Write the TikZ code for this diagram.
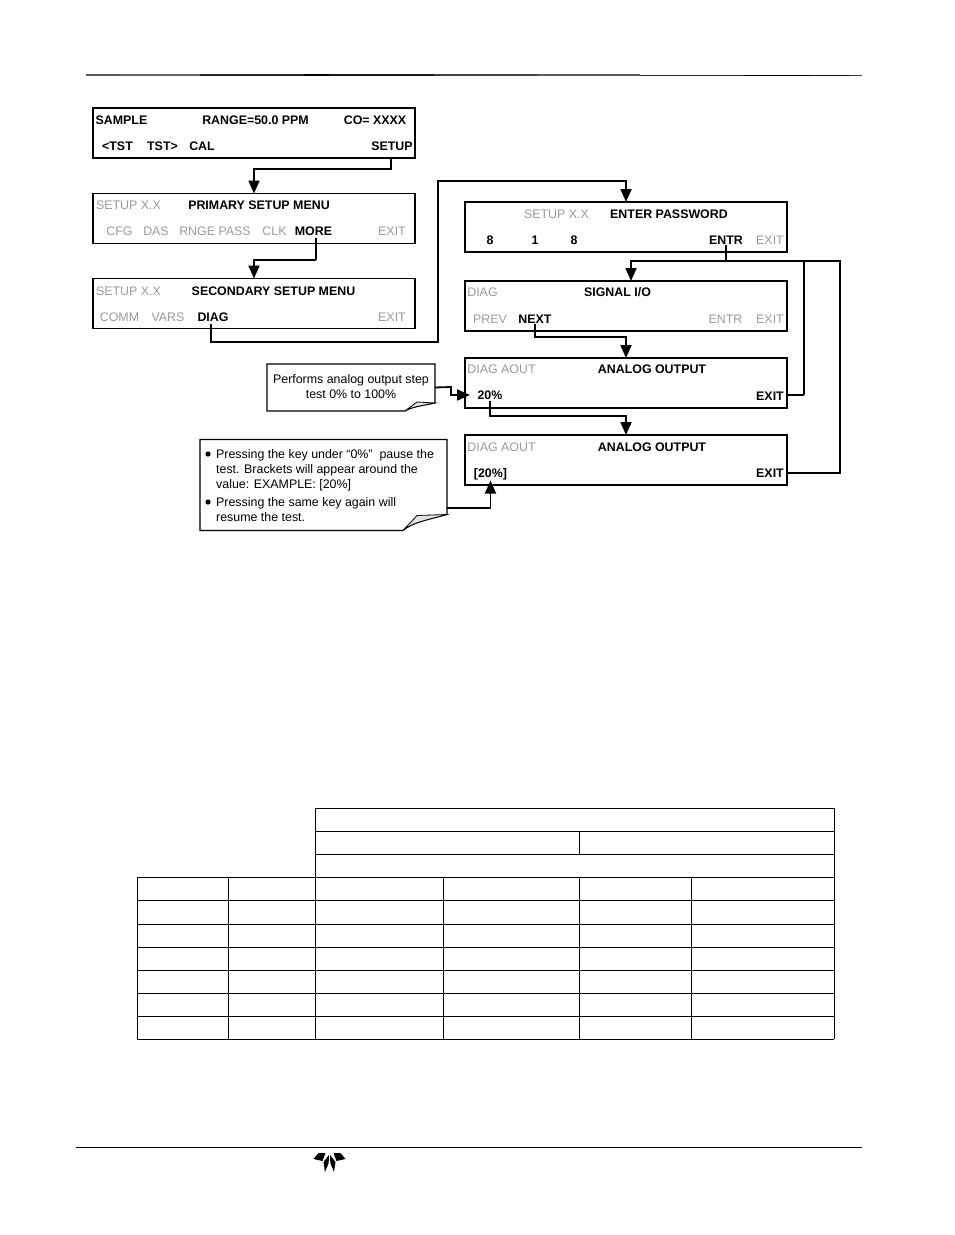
\documentclass[tikz,border=0pt]{standalone}
\usepackage{fontspec}
\setmainfont{Liberation Sans}
\usetikzlibrary{arrows.meta, calc}
\definecolor{keyoff}{HTML}{9A9A9A}
\definecolor{foldgrey}{HTML}{E2E2E2}

\begin{document}
\begin{tikzpicture}[
    x=1pt, y=-1pt,
    font=\fontsize{12.4}{15}\selectfont,
    >={Triangle[length=13pt,width=11pt]},
    lcd/.style={draw=black, line width=1.8pt, fill=white, minimum width=322pt, minimum height=50pt, inner sep=0pt, outer sep=0pt},
    on/.style={font=\fontsize{12.4}{15}\selectfont\bfseries, anchor=base, inner sep=0pt, outer sep=1pt},
    off/.style={text=keyoff, anchor=base, inner sep=0pt, outer sep=1pt},
    flow/.style={->, line width=1.8pt},
    notebody/.style={inner sep=0pt, outer sep=0pt, align=center},
    noteline/.style={anchor=north west, inner sep=0pt, align=left},
    grid/.style={line width=0.9pt},
]

\newcommand{\dogear}[5]{%
    \draw[line width=1.1pt, fill=white] (#1.north west) -- (#1.north east) -- ($(#1.south east)+(0,-#3)$) .. controls ($(#1.south east)+(-#2*0.4,-#3*0.7)$) and ($(#1.south east)+(-#2*0.8,-#3*0.5)$) .. ($(#1.south east)+(-#2,0)$) -- (#1.south west) -- cycle;
    \draw[line width=0.8pt, fill=foldgrey] ($(#1.south east)+(-#2,0)$) -- ($(#1.south east)+(-#4,-#5)$) -- ($(#1.south east)+(0,-#3)$) .. controls ($(#1.south east)+(-#2*0.4,-#3*0.7)$) and ($(#1.south east)+(-#2*0.8,-#3*0.5)$) .. cycle;
}

% ================= PAGE RULES =================
\useasboundingbox (0,0) rectangle (954,1235);
\foreach \xa/\xb/\yy/\tone in {86/120/74.8/65, 120/200/74.9/60, 200/304/75/85, 304/329/75/100, 329/434/75/90, 434/537/75.2/75, 537/640/75.2/65, 640/745/75.4/85, 745/810/75.5/100, 810/850/75.5/90, 850/862/75.6/75} {
    \draw[line width=1.5pt, black!\tone] (\xa,\yy) -- (\xb,\yy);
}
\draw[line width=1pt, black] (76,1147) -- (862,1147);

% ================= LEFT COLUMN =================
\node[lcd] (sample) at (254,133) {};
\node[on] (sampleA) at (121.5,124) {SAMPLE};
\node[on] (range) at (255.5,124) {RANGE=50.0 PPM};
\node[on] (coread) at (375,124) {CO= XXXX};
\node[on] (tstl) at (117.5,150) {<TST};
\node[on] (tstr) at (162.5,150) {TST>};
\node[on] (cal) at (202,150) {CAL};
\node[on] (setup) at (392,150) {SETUP};

\node[lcd] (primary) at (254,218.5) {};
\node[off] (setupA) at (128.5,209.5) {SETUP X.X};
\node[on] (primaryT) at (259,209.5) {PRIMARY SETUP MENU};
\node[off] (cfg) at (119.5,235) {CFG};
\node[off] (das) at (156,235) {DAS};
\node[off] (rnge) at (215,235) {RNGE PASS};
\node[off] (clk) at (274.5,235) {CLK};
\node[on] (more) at (313.5,235) {MORE};
\node[off] (exitA) at (392,235) {EXIT};

\node[lcd] (secondary) at (254,303.5) {};
\node[off] (setupB) at (128.5,295) {SETUP X.X};
\node[on] (secondaryT) at (273.5,295) {SECONDARY SETUP MENU};
\node[off] (comm) at (119.5,321) {COMM};
\node[off] (vars) at (168,321) {VARS};
\node[on] (diag) at (213,321) {DIAG};
\node[off] (exitB) at (392,321) {EXIT};

% ================= RIGHT COLUMN =================
\node[lcd] (password) at (626,227) {};
\node[off] (setupC) at (556.5,218) {SETUP X.X};
\node[on] (passwordT) at (669,218) {ENTER PASSWORD};
\node[on] (digA) at (490,244) {8};
\node[on] (digB) at (535,244) {1};
\node[on] (digC) at (574,244) {8};
\node[on] (entr) at (726,244) {ENTR};
\node[off] (exitC) at (770,244) {EXIT};

\node[lcd] (signal) at (626,306) {};
\node[off] (diagA) at (482.5,296) {DIAG};
\node[on] (signalT) at (617.5,296) {SIGNAL I/O};
\node[off] (prev) at (490,323) {PREV};
\node[on] (next) at (535,323) {NEXT};
\node[off] (entrB) at (725.5,323) {ENTR};
\node[off] (exitD) at (770,323) {EXIT};

\node[lcd] (aoutA) at (626,383) {};
\node[off] (diagB) at (501.5,373.5) {DIAG AOUT};
\node[on] (aoutAT) at (652,373.5) {ANALOG OUTPUT};
\node[on] (pct) at (490,399.5) {20\%};
\node[on] (exitE) at (770,400) {EXIT};

\node[lcd] (aoutB) at (626,460) {};
\node[off] (diagC) at (501.5,451) {DIAG AOUT};
\node[on] (aoutBT) at (652,451) {ANALOG OUTPUT};
\node[on] (pctB) at (490.5,477) {[20\%]};
\node[on] (exitF) at (770,477) {EXIT};

% ================= NOTES =================
\node[notebody, minimum width=168pt, minimum height=47pt] (stepnote) at (351,387.5) {};
\dogear{stepnote}{30}{8}{18}{9}
\node[notebody] (stepnoteT) at (351,386.5) {Performs analog output step\\test 0\% to 100\%};

\node[notebody, minimum width=247pt, minimum height=91pt] (pausenote) at (323.5,485) {};
\dogear{pausenote}{44}{16}{30}{15}
\node[noteline] (pauseA) at (216,449) {Pressing the key under “0\%”\ \ pause the\\test. Brackets will appear around the\\value: EXAMPLE: [20\%]};
\node[noteline] (pauseB) at (216,497) {Pressing the same key again will\\resume the test.};
\fill[black] (pauseA.base west |- 0,454) ++(-8,0) circle (2.6);
\fill[black] (pauseB.base west |- 0,502) ++(-8,0) circle (2.6);

% ================= CONNECTORS =================
\coordinate (setupout) at (391,158);
\coordinate (moreout) at (316,238);
\coordinate (diagout) at (211,324);
\coordinate (bendA) at (254,169);
\coordinate (bendB) at (254,260);
\coordinate (bendC) at (438,342);
\coordinate (bendD) at (626,181);
\coordinate (bendE) at (631,261);
\coordinate (bendF) at (626,337);
\coordinate (bendG) at (626,416);
\coordinate (busR) at (804,261);
\coordinate (busRend) at (804,395);
\coordinate (busS) at (840,261);
\coordinate (stepin) at (470,395);
\coordinate (stepmid) at (451,387);
\coordinate (pauseout) at (447,508);

\draw[flow] (setupout) |- (bendA) -- (bendA |- primary.north);
\draw[line width=1.1pt] (moreout) -- (moreout |- bendB);
\draw[flow] (moreout |- bendB) -- (bendB) -- (bendB |- secondary.north);
\draw[flow] (diagout) |- (bendC) |- (bendD) -- (bendD |- password.north);
\draw[flow] (entr.south) |- (bendE) -- (bendE |- signal.north);
\draw[line width=1.8pt] (bendE) -- (busS) |- (exitF.east -| aoutB.east);
\draw[line width=1.8pt] (busR) -- (busRend);
\draw[line width=1.1pt] (busRend) -- (busRend -| aoutA.east);
\draw[flow] (next.south) |- (bendF) -- (bendF |- aoutA.north);
\draw[flow] (pct.south) |- (bendG) -- (bendG |- aoutB.north);
\draw[flow] (stepnote.east) -- (stepmid) |- (stepin);
\draw[flow] (pauseout) -| (pctB.south);

% ================= TABLE =================
\foreach \yy in {877,900,924,947,970,993,1016,1039} {
    \draw[grid] (137,\yy) -- (834,\yy);
}
\foreach \yy in {808,831,854} {
    \draw[grid] (315,\yy) -- (834,\yy);
}
\foreach \xx in {137,228,443,691} {
    \draw[grid] (\xx,877) -- (\xx,1039);
}
\foreach \xx in {315,834} {
    \draw[grid] (\xx,808) -- (\xx,1039);
}
\draw[grid] (579,831) -- (579,854);
\draw[grid] (579,877) -- (579,1039);

% ================= LOGO =================
\foreach \side in {1,-1} {
    \begin{scope}[shift={(329.5,0)}, xscale=\side]
        \fill[black] (16,1159) -- (11,1153) -- (4,1153) -- (7,1161) -- cycle;
        \fill[black] (0.6,1155) -- (6,1162) -- (4.5,1172) -- (0.8,1163) -- cycle;
    \end{scope}
}

\end{tikzpicture}
\end{document}
